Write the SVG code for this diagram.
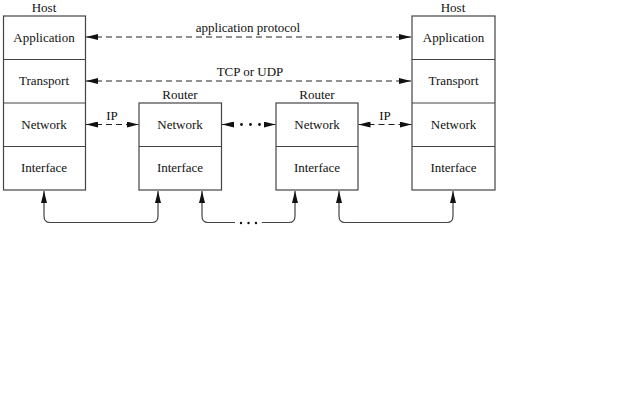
<svg xmlns="http://www.w3.org/2000/svg" width="640" height="400" viewBox="0 0 640 400">
<style>
.box{fill:#fff;stroke:#444;stroke-width:1.2}
.div{stroke:#444;stroke-width:1.2}
text{font-family:"Liberation Serif","DejaVu Serif",serif;font-size:13px;fill:#111;text-anchor:middle}
.dash{stroke:#222;stroke-width:1;stroke-dasharray:6,4;fill:none}
.solid{stroke:#444;stroke-width:1.2;fill:none}
</style>
<defs>
<marker id="ah" viewBox="0 0 12 6" refX="12" refY="3" markerWidth="12" markerHeight="6" markerUnits="userSpaceOnUse" orient="auto-start-reverse">
<path d="M0,0 L12,3 L0,6 Z" fill="#111"/>
</marker>
<marker id="au" viewBox="0 0 6 12" refX="3" refY="0" markerWidth="6" markerHeight="12" markerUnits="userSpaceOnUse" orient="0">
<path d="M0,12 L3,0 L6,12 Z" fill="#111"/>
</marker>
</defs>
<rect width="640" height="400" fill="#fff"/>
<g id="host-left">
<text x="44" y="12">Host</text>
<rect class="box" x="3.5" y="16" width="82" height="174"/>
<line class="div" x1="3.5" y1="59.5" x2="85.5" y2="59.5"/>
<line class="div" x1="3.5" y1="103" x2="85.5" y2="103"/>
<line class="div" x1="3.5" y1="146.5" x2="85.5" y2="146.5"/>
<text x="44" y="41.5">Application</text>
<text x="44" y="85">Transport</text>
<text x="44" y="128.5">Network</text>
<text x="44" y="172">Interface</text>
</g>
<g id="router-1">
<text x="180" y="99">Router</text>
<rect class="box" x="139" y="103" width="82.5" height="87"/>
<line class="div" x1="139" y1="146.5" x2="221.5" y2="146.5"/>
<text x="180" y="128.5">Network</text>
<text x="180" y="172">Interface</text>
</g>
<g id="router-2">
<text x="317" y="99">Router</text>
<rect class="box" x="276" y="103" width="82" height="87"/>
<line class="div" x1="276" y1="146.5" x2="358" y2="146.5"/>
<text x="317" y="128.5">Network</text>
<text x="317" y="172">Interface</text>
</g>
<g id="host-right">
<text x="453" y="12">Host</text>
<rect class="box" x="412" y="16" width="83" height="174"/>
<line class="div" x1="412" y1="59.5" x2="495" y2="59.5"/>
<line class="div" x1="412" y1="103" x2="495" y2="103"/>
<line class="div" x1="412" y1="146.5" x2="495" y2="146.5"/>
<text x="453.5" y="41.5">Application</text>
<text x="453.5" y="85">Transport</text>
<text x="453.5" y="128.5">Network</text>
<text x="453.5" y="172">Interface</text>
</g>
<g id="connectors">
<line class="dash" x1="86" y1="37" x2="411" y2="37" marker-start="url(#ah)" marker-end="url(#ah)"/>
<text x="248" y="32">application protocol</text>
<line class="dash" x1="86" y1="81" x2="411" y2="81" marker-start="url(#ah)" marker-end="url(#ah)"/>
<text x="250" y="76">TCP or UDP</text>
<line class="dash" x1="86" y1="124.5" x2="138.5" y2="124.5" stroke-dasharray="5,4" marker-start="url(#ah)" marker-end="url(#ah)"/>
<text x="112" y="120">IP</text>
<line class="dash" x1="358.5" y1="124.5" x2="411.5" y2="124.5" stroke-dasharray="5,4" marker-start="url(#ah)" marker-end="url(#ah)"/>
<text x="385" y="120">IP</text>
<line x1="222" y1="124.5" x2="234" y2="124.5" stroke="#222" marker-start="url(#ah)"/>
<line x1="264" y1="124.5" x2="275.5" y2="124.5" stroke="#222" marker-end="url(#ah)"/>
<g fill="#111">
<circle cx="241.5" cy="124.5" r="1.4"/>
<circle cx="250.5" cy="124.5" r="1.4"/>
<circle cx="259.5" cy="124.5" r="1.4"/>
</g>
<path class="solid" d="M44,191 V216 Q44,222.5 50,222.5 H152 Q158,222.5 158,216 V191" marker-start="url(#au)" marker-end="url(#au)"/>
<path class="solid" d="M202,191 V216 Q202,222.5 208,222.5 H235" marker-start="url(#au)"/>
<path class="solid" d="M262,222.5 H289 Q295,222.5 295,216 V191" marker-end="url(#au)"/>
<g fill="#111">
<circle cx="241" cy="223" r="1.2"/>
<circle cx="248.5" cy="223" r="1.2"/>
<circle cx="256" cy="223" r="1.2"/>
</g>
<path class="solid" d="M339,191 V216 Q339,222.5 345,222.5 H447 Q453,222.5 453,216 V191" marker-start="url(#au)" marker-end="url(#au)"/>
</g>
</svg>
